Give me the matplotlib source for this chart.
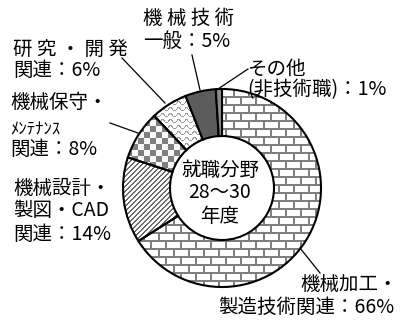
import numpy as np
import matplotlib
matplotlib.use('Agg')
import matplotlib.pyplot as plt

plt.rcParams['font.family'] = ['Noto Sans CJK JP', 'DejaVu Sans']

# ---- data ----
categories = ['機械加工・製造技術関連', '機械設計・製図・CAD関連', '機械保守・メンテナンス関連',
              '研究・開発関連', '機械技術一般', 'その他（非技術職）']
shares = [66, 14, 8, 6, 5, 1]
center_title = ['就職分野', '28～30', '年度']

W, H = 403, 323
fig = plt.figure(figsize=(W / 100, H / 100), dpi=100)
ax = fig.add_axes([0, 0, 1, 1])

def Y(y):
    return H - y

cx, cy = 222, Y(188)
R, r_in = 99, 52

wedges, _ = ax.pie(shares, startangle=90, counterclock=False, center=(cx, cy), radius=R,
                   frame=True,
                   wedgeprops=dict(width=R - r_in, facecolor='none', edgecolor='black',
                                   linewidth=1.5, zorder=3))
ax.set_xlim(0, W)
ax.set_ylim(0, H)
ax.set_aspect('equal')
ax.axis('off')

# ---- textures (pixel grid, y from top) ----
yy, xx = np.mgrid[0:H, 0:W]

def rgb(mask, c_on, c_off=(1, 1, 1)):
    img = np.ones((H, W, 3))
    img[:] = c_off
    img[mask] = c_on
    return img

# bricks
row = yy // 8
brick_mask = (yy % 8 < 2) | (((xx + (row % 2) * 7) % 15) < 2)
brick = rgb(brick_mask, (0.50, 0.50, 0.50))
# diagonal stripes
diag = rgb(((xx + yy) % 5) < 2, (0.42, 0.42, 0.42))
# checkerboard
checker = rgb(((xx // 6 + yy // 6) % 2) == 0, (0.50, 0.50, 0.50), (0.97, 0.97, 0.97))
# wavy
wave_y = (yy + 1.5 * np.sin(2 * np.pi * xx / 8.0)) % 6
wavy = rgb(wave_y < 1.3, (0.62, 0.62, 0.62))

textures = [brick, diag, checker, wavy]
for wdg, tex in zip(wedges[:4], textures):
    im = ax.imshow(tex, extent=(0, W, 0, H), origin='upper', interpolation='nearest', zorder=1)
    im.set_clip_path(wdg)
wedges[4].set_facecolor((0.36, 0.36, 0.36))
wedges[5].set_facecolor((0.55, 0.55, 0.55))
ax.set_xlim(0, W)
ax.set_ylim(0, H)

# ---- center text ----
FS = 14
for t, yc in zip(center_title, [170, 193, 216]):
    ax.text(220, Y(yc), t, ha='center', va='center', fontsize=FS, zorder=5)

# ---- labels ----
labels = [
    (143, 18, '機 械 技 術', FS), (143, 41, '一般：5%', FS),
    (13, 50, '研 究 ・ 開 発', FS), (13, 70, '関連：6%', FS),
    (247, 69, 'その他', FS), (247, 90, '(非技術職)：1%', FS),
    (10, 103, '機械保守・', FS), (10, 130, 'ﾒﾝﾃﾅﾝｽ', 12), (10, 149, '関連：8%', FS),
    (13, 188, '機械設計・', FS), (13, 211, '製図・CAD', FS), (13, 234, '関連：14%', FS),
    (300, 284, '機械加工・', FS), (218, 307, '製造技術関連：66%', FS),
]
for x, y, t, fs in labels:
    ax.text(x, Y(y), t, ha='left', va='center', fontsize=fs, zorder=5)

# ---- leader lines ----
leaders = [((192, 55), (200, 90)), ((248, 69), (218, 89)), ((122, 58), (165, 103)),
           ((110, 123), (138, 133)), ((300, 248), (320, 273))]
for (x0, y0), (x1, y1) in leaders:
    ax.plot([x0, x1], [Y(y0), Y(y1)], color='black', lw=0.9, zorder=4)

fig.savefig('out.png', dpi=100)
